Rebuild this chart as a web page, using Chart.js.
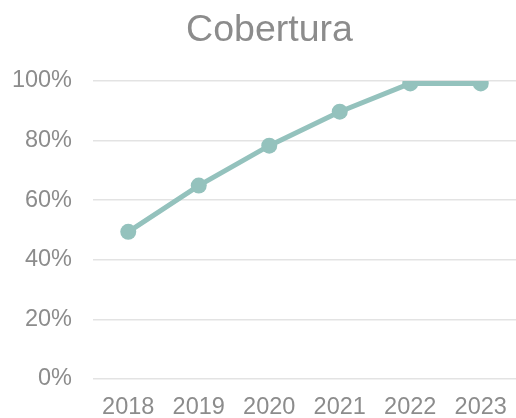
<!DOCTYPE html>
<html>
<head>
<meta charset="utf-8">
<script src="https://cdn.jsdelivr.net/npm/chart.js@4"></script>
<style>
  html,body{margin:0;padding:0;background:#fff;}
  #wrap{width:516px;height:418px;}
</style>
</head>
<body>
<div id="wrap"><canvas id="chart" width="516" height="418"></canvas></div>
<script>
// ---- Data ----
const years = ['2018','2019','2020','2021','2022','2023'];
const cobertura = [49.4, 64.9, 78.3, 89.7, 99.2, 99.2];
const yTicks = [0, 20, 40, 60, 80, 100];

const lineColor = '#94c2bd';
const textColor = '#8c8c8c';
const fontFam = '"Liberation Sans", Arial, sans-serif';

// title sits a bit right of the canvas centre in the original
const titleShift = {
  id:'titleShift',
  afterLayout(chart){ if(chart.titleBlock) chart.titleBlock.left += 23; }
};

// ---- Chart ----
const ctx = document.getElementById('chart').getContext('2d');
new Chart(ctx, {
  type:'line',
  data:{
    labels:years,
    datasets:[{
      data:cobertura,
      borderColor:lineColor,
      backgroundColor:lineColor,
      borderWidth:5,
      pointRadius:8,
      pointHoverRadius:8,
      pointBorderWidth:0,
      tension:0
    }]
  },
  plugins:[titleShift],
  options:{
    responsive:false,
    animation:false,
    layout:{ autoPadding:false, padding:0 },
    plugins:{
      legend:{ display:false },
      tooltip:{ enabled:false },
      title:{
        display:true,
        text:'Cobertura',
        color:textColor,
        font:{ family:fontFam, size:37.5, weight:'normal', lineHeight:1.2 },
        padding:{ top:8, bottom:28 }
      }
    },
    scales:{
      x:{
        offset:true,
        grid:{ display:false },
        border:{ display:false },
        afterFit:s=>{ s.height = 39; s.paddingLeft = 0; s.paddingRight = 0; },
        ticks:{
          color:textColor, padding:9, maxRotation:0,
          font:{ family:fontFam, size:23.5, lineHeight:1 }
        }
      },
      y:{
        min:0, max:100,
        afterBuildTicks:s=>{ s.ticks = yTicks.map(v=>({value:v})); },
        afterFit:s=>{ s.width = 93; s.paddingTop = 0; s.paddingBottom = 0; },
        grid:{ color:'#e3e3e3', lineWidth:1.5, drawTicks:false },
        border:{ display:false },
        ticks:{
          color:textColor, padding:21,
          callback:v=>v+'%',
          font:{ family:fontFam, size:23.5 }
        }
      }
    }
  }
});
</script>
</body>
</html>
